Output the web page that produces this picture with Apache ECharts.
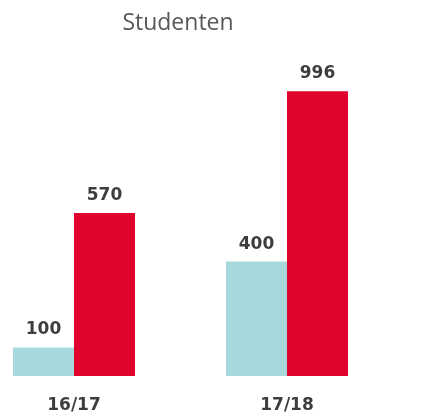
<!DOCTYPE html>
<html>
<head>
<meta charset="utf-8">
<script src="https://cdn.jsdelivr.net/npm/echarts@6/dist/echarts.min.js"></script>
<style>html,body{margin:0;padding:0;background:#fff;}#c{width:427px;height:418px;}</style>
</head>
<body>
<div id="c"></div>
<script>
const categories = ['16/17', '17/18'];
const seriesBlue = [100, 400];
const seriesRed = [570, 996];
const titleText = 'Studenten';

const chart = echarts.init(document.getElementById('c'), null, {renderer: 'canvas'});
const labelStyle = {
  show: true, position: 'top', distance: 9,
  fontFamily: 'DejaVu Sans', fontWeight: 'bold', fontSize: 17, color: '#3d3d3d'
};
chart.setOption({
  animation: false,
  backgroundColor: '#ffffff',
  title: {
    text: titleText, left: 173, top: 7, textAlign: 'center',
    textStyle: {fontFamily: 'Open Sans', fontWeight: 'normal', fontSize: 23, color: '#585858'}
  },
  grid: {left: 74, right: 140, top: 90, bottom: 42, containLabel: false},
  xAxis: {
    type: 'category', data: categories, boundaryGap: false,
    axisLine: {show: false}, axisTick: {show: false},
    axisLabel: {margin: 21, fontFamily: 'DejaVu Sans', fontWeight: 'bold', fontSize: 17, color: '#3d3d3d'}
  },
  yAxis: {type: 'value', min: 0, max: 1000, show: false, splitLine: {show: false}},
  series: [
    {type: 'bar', data: seriesBlue, barWidth: 61, barGap: '0%', clip: false, itemStyle: {color: '#a7d9dc'}, label: labelStyle},
    {type: 'bar', data: seriesRed, barWidth: 61, barGap: '0%', clip: false, itemStyle: {color: '#e0032c'}, label: labelStyle}
  ]
});
</script>
</body>
</html>
